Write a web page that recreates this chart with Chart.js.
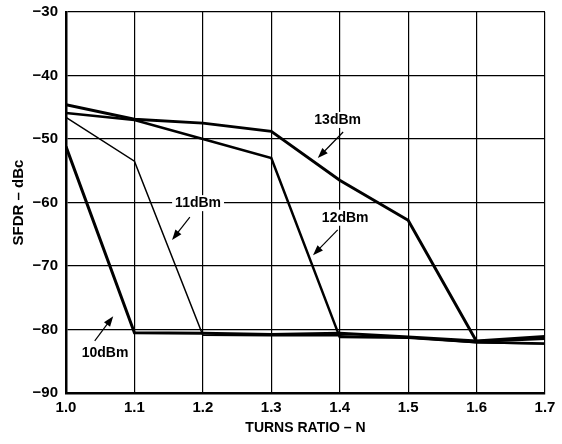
<!DOCTYPE html>
<html>
<head>
<meta charset="utf-8">
<script src="https://cdn.jsdelivr.net/npm/chart.js@4/dist/chart.umd.min.js"></script>
<style>
  html, body { margin: 0; padding: 0; background: #fff; }
  #wrap { width: 562px; height: 444px; }
</style>
</head>
<body>
<div id="wrap"><canvas id="chart"></canvas></div>
<script>
// Turns ratio (x) and SFDR in dBc for each drive level
const turnsRatio = [1.0, 1.1, 1.2, 1.3, 1.4, 1.5, 1.6, 1.7];
const sfdr13 = [-44.6, -46.9, -47.5, -48.8, -56.5, -62.8, -81.9, -81.4];
const sfdr12 = [-45.9, -47.0, -50.0, -53.0, -81.2, -81.3, -82.0, -82.2];
const sfdr11 = [-46.6, -53.5, -80.9, -81.0, -81.0, -81.3, -82.1, -82.3];
const sfdr10 = [-51.2, -80.5, -80.6, -80.8, -80.6, -81.2, -81.8, -81.1];

// label text, label position, arrow tail, arrow head (data units)
const notes = [
  { text: '13dBm', at: [1.397, -47.0], from: [1.405, -48.9], to: [1.368, -53.0] },
  { text: '12dBm', at: [1.408, -62.4], from: [1.397, -64.3], to: [1.361, -68.3] },
  { text: '11dBm', at: [1.193, -60.1], from: [1.181, -62.3], to: [1.155, -65.9] },
  { text: '10dBm', at: [1.057, -83.7], from: [1.042, -81.8], to: [1.069, -77.9] }
];

const FONT = '"Liberation Sans", Arial, Helvetica, sans-serif';

function series(values, width) {
  return {
    data: turnsRatio.map((x, i) => ({ x: x, y: values[i] })),
    borderColor: '#000',
    borderWidth: width,
    pointRadius: 0,
    tension: 0,
    borderJoinStyle: 'miter'
  };
}

const notePlugin = {
  id: 'notes',
  afterDatasetsDraw(chart) {
    const ctx = chart.ctx;
    const xs = chart.scales.x, ys = chart.scales.y;
    ctx.save();
    ctx.font = 'bold 14px ' + FONT;
    ctx.textAlign = 'center';
    ctx.textBaseline = 'middle';
    notes.forEach(n => {
      const lx = xs.getPixelForValue(n.at[0]), ly = ys.getPixelForValue(n.at[1]);
      const w = ctx.measureText(n.text).width;
      ctx.fillStyle = '#fff';
      ctx.fillRect(lx - w / 2 - 3, ly - 8, w + 6, 16);
      ctx.fillStyle = '#000';
      ctx.fillText(n.text, lx, ly);

      const x1 = xs.getPixelForValue(n.from[0]), y1 = ys.getPixelForValue(n.from[1]);
      const x2 = xs.getPixelForValue(n.to[0]), y2 = ys.getPixelForValue(n.to[1]);
      const ang = Math.atan2(y2 - y1, x2 - x1);
      ctx.strokeStyle = '#000';
      ctx.lineWidth = 1.2;
      ctx.beginPath();
      ctx.moveTo(x1, y1);
      ctx.lineTo(x2 - 6 * Math.cos(ang), y2 - 6 * Math.sin(ang));
      ctx.stroke();
      ctx.beginPath();
      ctx.moveTo(x2, y2);
      ctx.lineTo(x2 - 11 * Math.cos(ang - 0.35), y2 - 11 * Math.sin(ang - 0.35));
      ctx.lineTo(x2 - 11 * Math.cos(ang + 0.35), y2 - 11 * Math.sin(ang + 0.35));
      ctx.closePath();
      ctx.fill();
    });
    ctx.restore();
  }
};

new Chart(document.getElementById('chart'), {
  type: 'line',
  data: {
    datasets: [
      series(sfdr11, 1.5),
      series(sfdr12, 2.5),
      series(sfdr10, 3),
      series(sfdr13, 3)
    ]
  },
  options: {
    responsive: true,
    maintainAspectRatio: false,
    animation: false,
    layout: { padding: { top: 12, right: 17, left: 0, bottom: 0 } },
    plugins: {
      legend: { display: false },
      tooltip: { enabled: false }
    },
    scales: {
      x: {
        type: 'linear',
        min: 1.0,
        max: 1.7,
        grid: { color: '#000', lineWidth: 1.2, drawTicks: false },
        border: { color: '#000', width: 2.5 },
        ticks: {
          stepSize: 0.1,
          padding: 6,
          color: '#000',
          font: { family: FONT, size: 15, weight: 'bold' },
          callback: v => v.toFixed(1)
        },
        title: {
          display: true,
          text: 'TURNS RATIO – N',
          color: '#000',
          font: { family: FONT, size: 14, weight: 'bold' },
          padding: { top: 4, bottom: 7 }
        },
        afterFit: s => {
          s.height = 51;
          s.paddingLeft = 0;
          s.paddingRight = 0;
        }
      },
      y: {
        min: -90,
        max: -30,
        grid: { color: '#000', lineWidth: 1.2, drawTicks: false },
        border: { color: '#000', width: 2.5 },
        ticks: {
          stepSize: 10,
          padding: 8,
          color: '#000',
          font: { family: FONT, size: 15, weight: 'bold' },
          callback: v => String(v).replace('-', '\u2212')
        },
        title: {
          display: true,
          text: 'SFDR – dBc',
          color: '#000',
          font: { family: FONT, size: 15, weight: 'bold' },
          padding: { top: 10, bottom: 6 }
        },
        afterFit: s => {
          s.width = 66;
          s.paddingTop = 0;
          s.paddingBottom = 0;
        }
      }
    }
  },
  plugins: [notePlugin]
});
</script>
</body>
</html>
